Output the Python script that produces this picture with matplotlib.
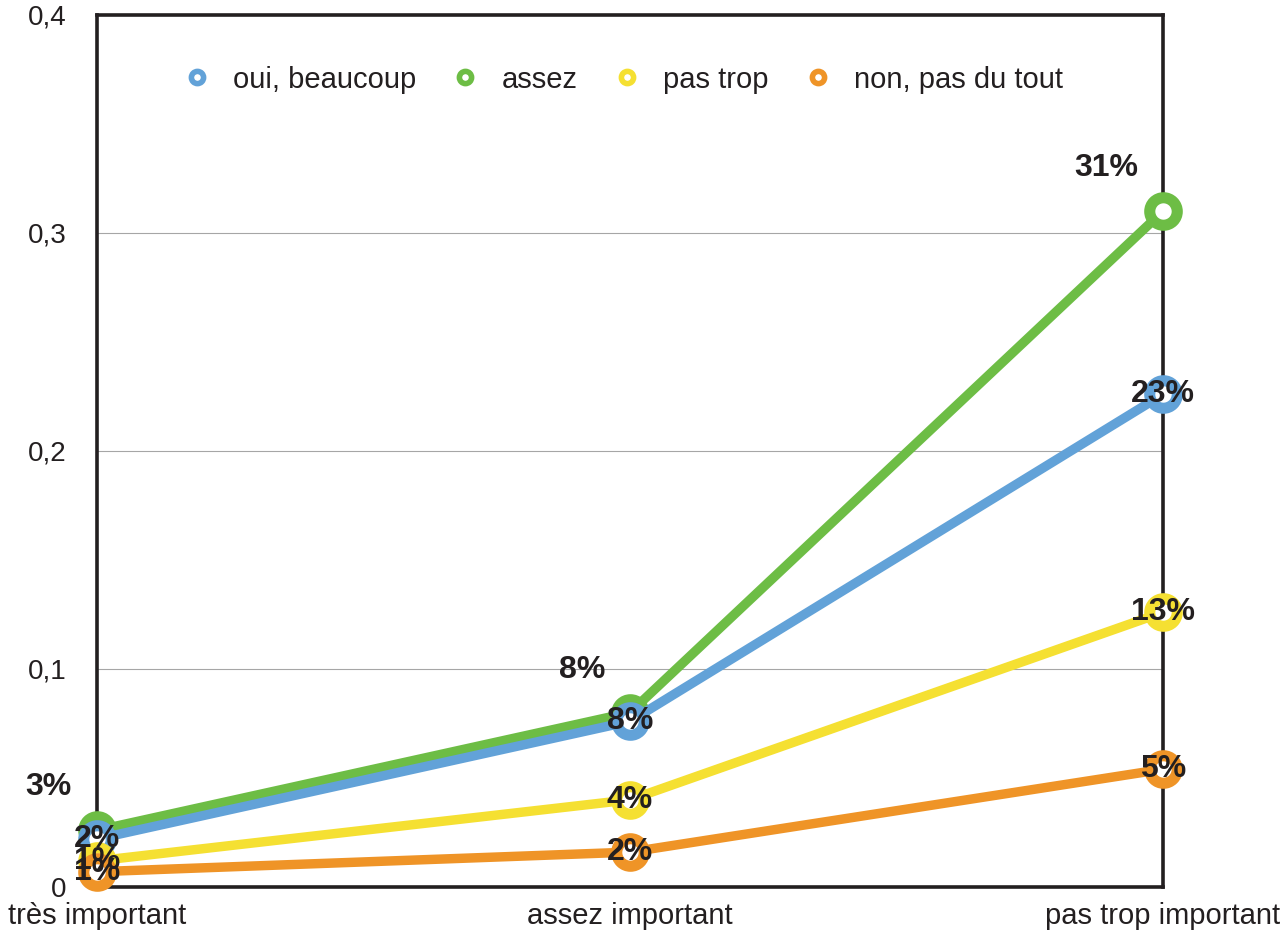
import matplotlib
matplotlib.use("Agg")
import matplotlib.pyplot as plt
from matplotlib.ticker import FixedLocator

plt.rcParams["font.family"] = ["Liberation Sans", "DejaVu Sans"]

categories = ["très important", "assez important", "pas trop important"]
series_names = ["oui, beaucoup", "assez", "pas trop", "non, pas du tout"]
oui_beaucoup = [0.022, 0.076, 0.226]
assez = [0.026, 0.080, 0.310]
pas_trop = [0.012, 0.040, 0.126]
non_pas_du_tout = [0.007, 0.016, 0.054]
y_ticks = [0, 0.1, 0.2, 0.3, 0.4]
y_tick_labels = ["0", "0,1", "0,2", "0,3", "0,4"]

colors = ["#62a2d8", "#6dbd45", "#f5e032", "#ef9427"]
ink = "#231f20"
# stacking order of the lines: green underneath, orange on top
zorders = [4, 3, 5, 6]
values = [oui_beaucoup, assez, pas_trop, non_pas_du_tout]

fig = plt.figure(figsize=(12.8, 9.31), dpi=100)
ax = fig.add_axes([97 / 1280, 1 - 887 / 931, (1163 - 97) / 1280, (887 - 15) / 931])

x = list(range(len(categories)))
for name, ys, c, z in zip(series_names, values, colors, zorders):
    ax.plot(x, ys, color=c, lw=6.8, marker="o", ms=19.8, mew=8.0,
            mfc="white", mec=c, zorder=z, clip_on=False, solid_capstyle="butt")

# legend handles: small hollow circles, no line
handles = [plt.Line2D([], [], ls="none", marker="o", ms=8.8, mew=4.0,
                      mfc="white", mec=c) for c in colors]
ax.legend(handles, series_names, loc="center", bbox_to_anchor=(0.493, 0.926),
          ncol=4, frameon=False, fontsize=21, handlelength=1.0,
          handletextpad=0.75, columnspacing=1.18, labelcolor=ink)

# value labels: green sits above-left of its point, the rest centred on the point
lbl = dict(fontsize=23, fontweight="bold", color=ink, zorder=10,
           annotation_clip=False)
for i, ys in enumerate(values):
    for xi, v in zip(x, ys):
        txt = f"{v * 100:.0f}%"
        if series_names[i] == "assez":
            ax.annotate(txt, (xi, v), xytext=(-18, 31), textcoords="offset points",
                        ha="right", va="center", **lbl)
        else:
            ax.annotate(txt, (xi, v), ha="center", va="center", **lbl)

ax.set_xlim(0, 2)
ax.set_ylim(0, 0.4)
ax.set_xticks(x)
ax.set_xticklabels(categories, fontsize=21, color=ink)
ax.yaxis.set_major_locator(FixedLocator(y_ticks))
ax.set_yticklabels(y_tick_labels, fontsize=20, color=ink)
ax.tick_params(axis="x", length=0, pad=10.5)
ax.tick_params(axis="y", length=0, pad=22)
ax.grid(axis="y", color="#a6a6a6", lw=0.8)
ax.set_axisbelow(True)
for s in ax.spines.values():
    s.set_color(ink)
    s.set_linewidth(2.6)
    s.set_zorder(2)

fig.savefig("out.png", dpi=100)
